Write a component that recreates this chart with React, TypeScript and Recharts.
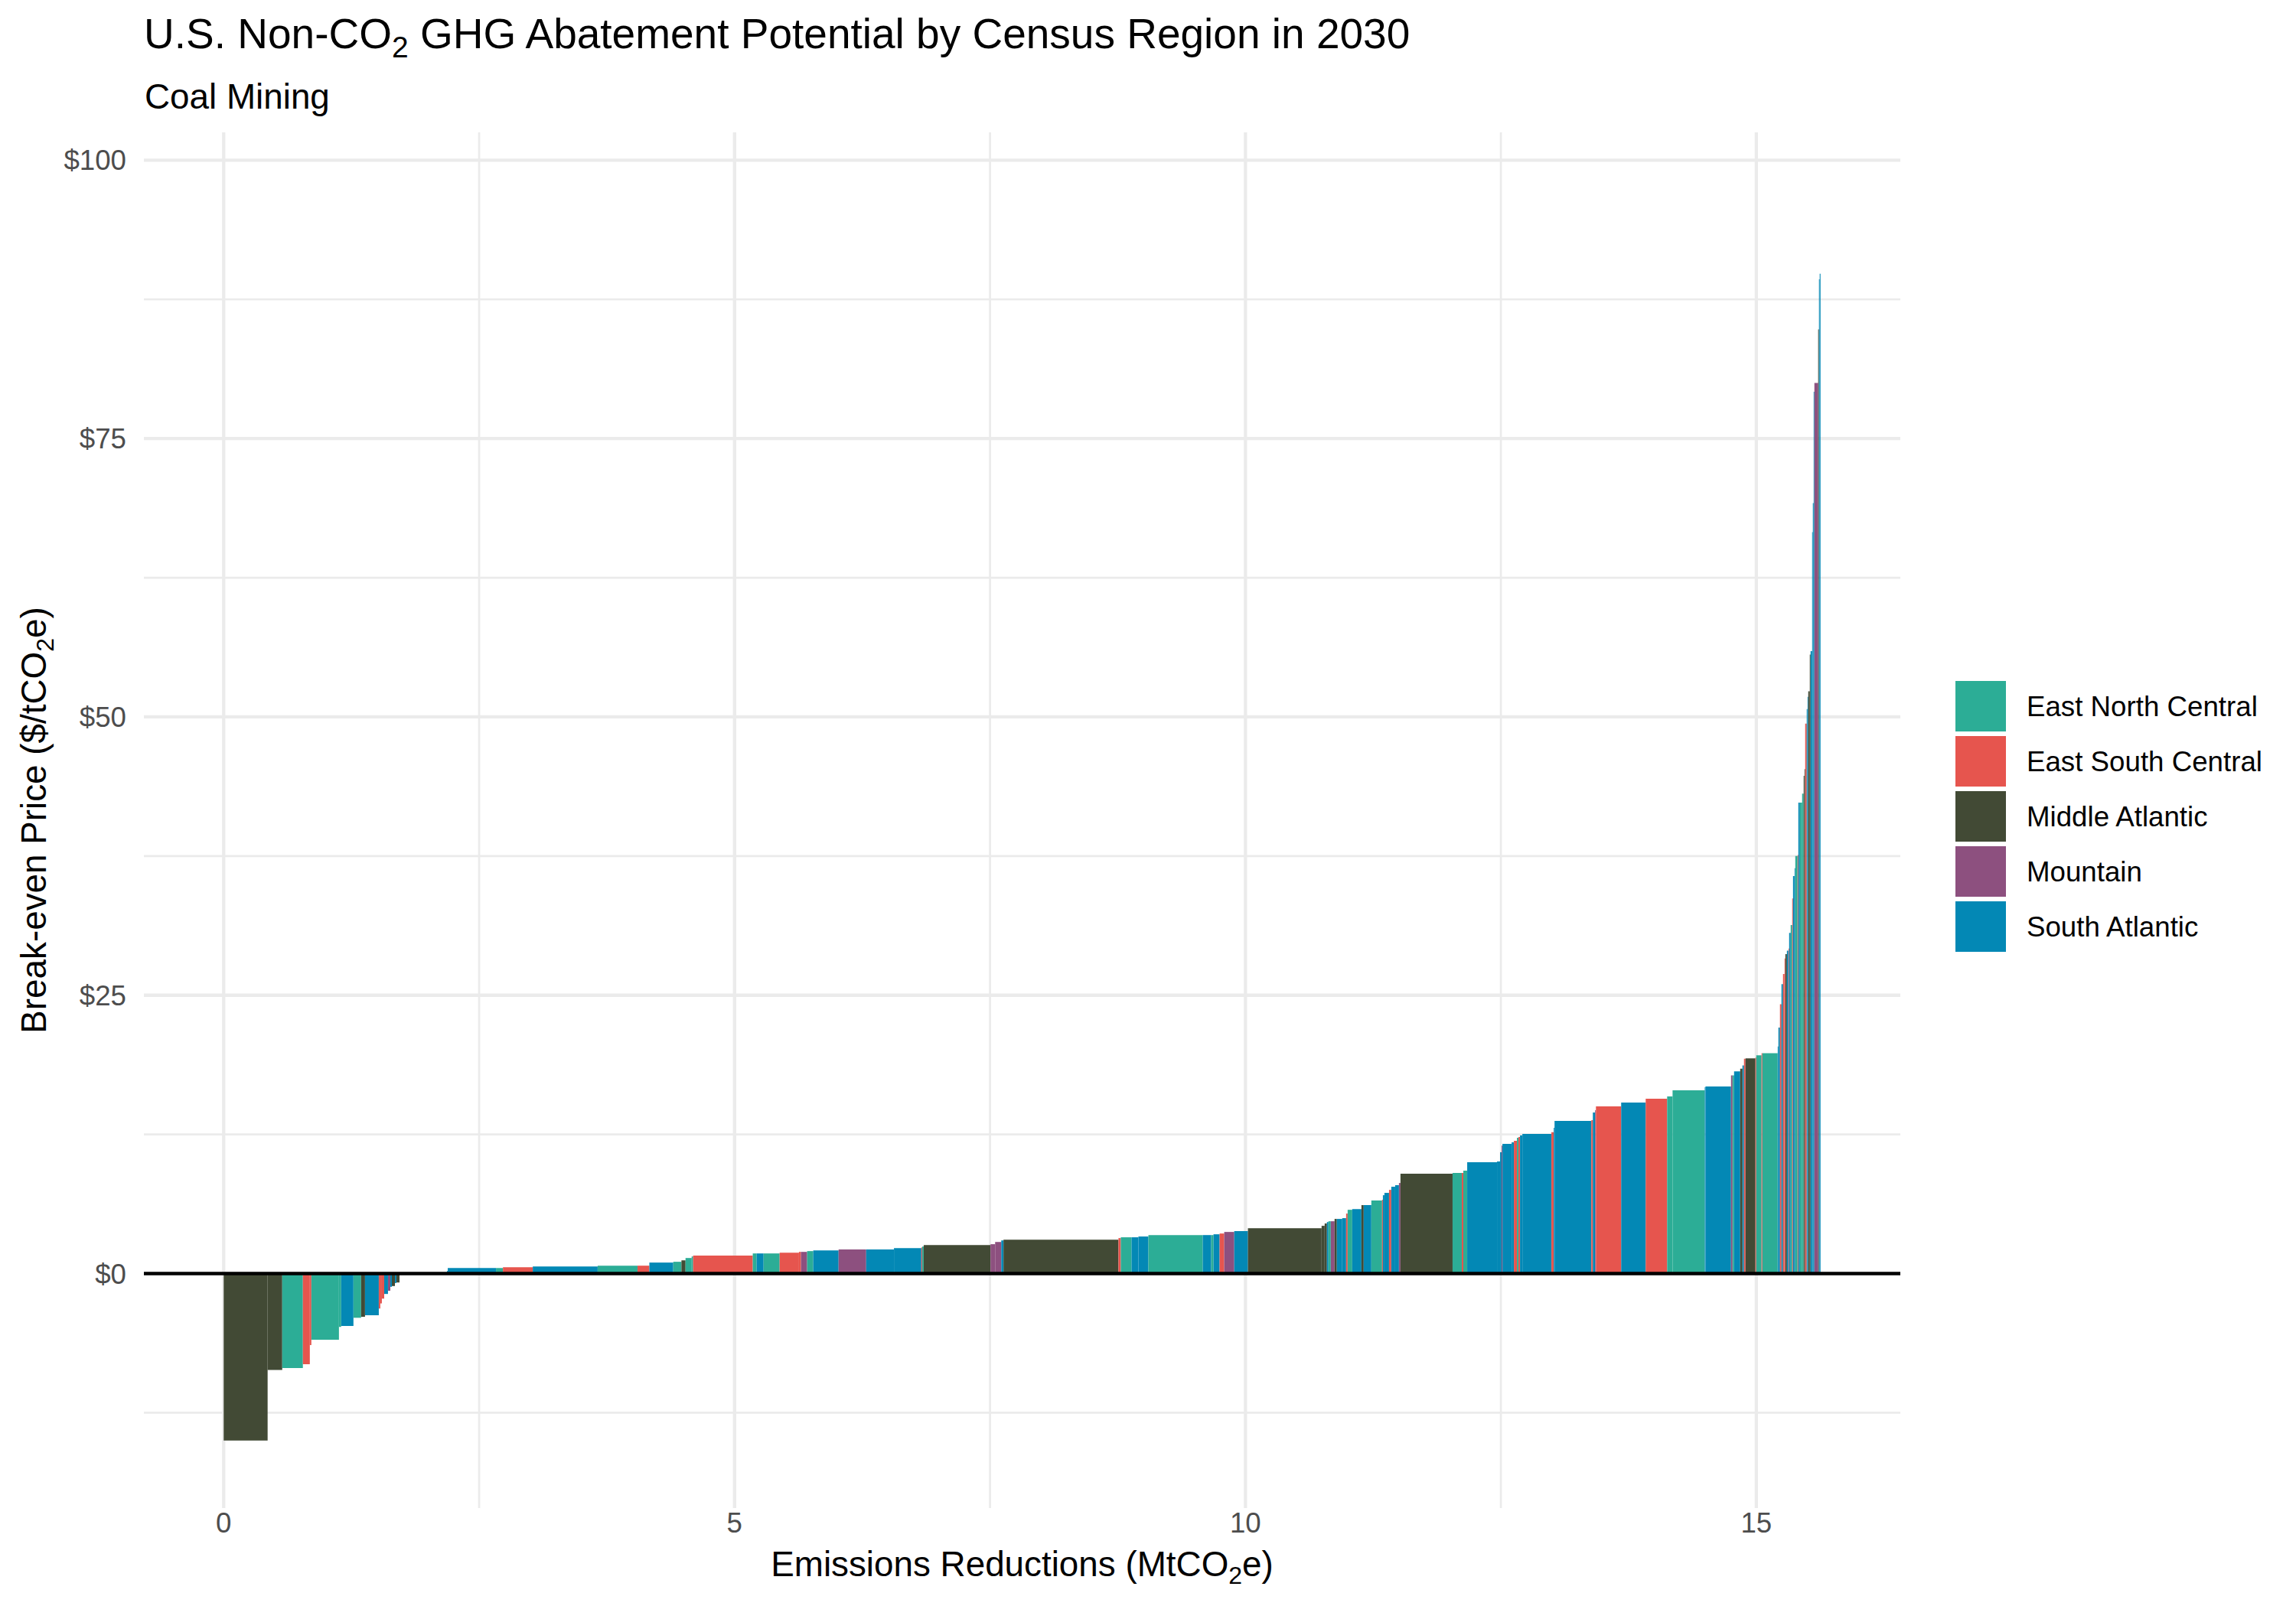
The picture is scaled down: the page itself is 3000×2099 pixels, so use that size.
import {
  ComposedChart,
  CartesianGrid,
  XAxis,
  YAxis,
  ReferenceArea,
  ReferenceLine,
} from "recharts";

// regions (legend order) and their fill colours
const regionCodes = ["ENC", "ESC", "MA", "MTN", "SA"];
const regionNames = [
  "East North Central",
  "East South Central",
  "Middle Atlantic",
  "Mountain",
  "South Atlantic",
];
const regionColors = ["#2CAD96", "#E6554E", "#424A35", "#8D507F", "#0388B5"];

// one entry per abatement option, sorted by break-even price
const segRegion = [
  "MA", "MA", "ENC", "ESC", "ESC", "ENC", "ENC", "SA", "ENC", "MA",
  "SA", "ESC", "ESC", "ESC", "SA", "MTN", "SA", "MA", "SA", "MA",
  "SA", "MA", "SA", "SA", "ENC", "ESC", "SA", "ENC", "ESC", "SA",
  "ENC", "MA", "ENC", "ENC", "ESC", "ENC", "SA", "ENC", "ESC", "ESC",
  "MTN", "ENC", "SA", "MTN", "SA", "SA", "ESC", "ENC", "MA", "MTN",
  "MTN", "SA", "MA", "ESC", "ENC", "SA", "SA", "ENC", "SA", "ENC",
  "SA", "ESC", "MTN", "SA", "MA", "MA", "MA", "SA", "ENC", "MTN",
  "MA", "SA", "SA", "ESC", "ENC", "SA", "MA", "SA", "ENC", "ESC",
  "SA", "SA", "ESC", "SA", "SA", "MTN", "MA", "ENC", "ESC", "ENC",
  "SA", "SA", "SA", "MTN", "SA", "SA", "ESC", "ENC", "ESC", "SA",
  "SA", "ESC", "SA", "SA", "ESC", "SA", "MTN", "ESC", "SA", "ESC",
  "ENC", "ENC", "SA", "SA", "MTN", "ENC", "SA", "MA", "SA", "ESC",
  "MA", "ESC", "ENC", "ESC", "ENC", "SA", "SA", "ESC", "SA", "ESC",
  "ESC", "MA", "SA", "ESC", "SA", "ENC", "ESC", "SA", "SA", "ENC",
  "ESC", "SA", "ENC", "ENC", "MA", "MA", "ESC", "SA", "SA", "MA",
  "MA", "SA", "SA", "SA", "SA", "MTN", "MA", "SA", "SA",
];

// MtCO2e reduced by each option
const segWidth = [
  0.43, 0.143, 0.202, 0.068, 0.015, 0.27, 0.022, 0.12, 0.075, 0.038,
  0.135, 0.015, 0.015, 0.023, 0.037, 0.023, 0.015, 0.03, 0.015, 0.03,
  0.075, 0.39, 0.007, 0.472, 0.068, 0.292, 0.635, 0.39, 0.116, 0.234,
  0.08, 0.04, 0.06, 0.014, 0.584, 0.038, 0.068, 0.157, 0.189, 0.02,
  0.06, 0.06, 0.248, 0.27, 0.272, 0.268, 0.008, 0.015, 0.654, 0.045,
  0.06, 0.022, 1.125, 0.023, 0.105, 0.067, 0.098, 0.532, 0.083, 0.022,
  0.06, 0.045, 0.098, 0.134, 0.721, 0.03, 0.022, 0.015, 0.023, 0.037,
  0.022, 0.053, 0.038, 0.015, 0.045, 0.09, 0.022, 0.075, 0.105, 0.008,
  0.015, 0.045, 0.022, 0.038, 0.037, 0.015, 0.51, 0.09, 0.015, 0.038,
  0.292, 0.03, 0.015, 0.008, 0.09, 0.022, 0.03, 0.015, 0.015, 0.023,
  0.284, 0.023, 0.008, 0.36, 0.015, 0.022, 0.008, 0.247, 0.24, 0.21,
  0.053, 0.315, 0.007, 0.25, 0.015, 0.015, 0.06, 0.022, 0.015, 0.015,
  0.097, 0.008, 0.052, 0.008, 0.15, 0.007, 0.015, 0.015, 0.015, 0.015,
  0.008, 0.015, 0.015, 0.007, 0.015, 0.015, 0.008, 0.015, 0.007, 0.023,
  0.007, 0.015, 0.022, 0.015, 0.008, 0.007, 0.015, 0.008, 0.007, 0.015,
  0.008, 0.015, 0.007, 0.008, 0.007, 0.037, 0.008, 0.007, 0.008,
];

// break-even price, $/tCO2e
const segPrice = [
  -15.0, -8.65, -8.49, -8.14, -6.42, -5.94, -4.79, -4.7, -3.97, -3.88,
  -3.74, -3.14, -2.68, -2.25, -1.83, -1.54, -1.19, -1.12, -0.85, -0.8,
  0.03, 0.1, 0.25, 0.5, 0.5, 0.57, 0.64, 0.71, 0.71, 0.99,
  1.06, 1.19, 1.4, 1.54, 1.61, 1.81, 1.81, 1.81, 1.88, 1.95,
  1.95, 2.02, 2.09, 2.16, 2.16, 2.29, 2.36, 2.43, 2.57, 2.64,
  2.84, 2.98, 3.05, 3.19, 3.26, 3.26, 3.33, 3.46, 3.46, 3.46,
  3.53, 3.6, 3.74, 3.81, 4.08, 4.29, 4.5, 4.63, 4.7, 4.7,
  4.91, 4.91, 4.98, 5.39, 5.73, 5.8, 6.15, 6.15, 6.56, 6.63,
  7.04, 7.25, 7.52, 7.8, 7.94, 8.14, 8.97, 9.04, 9.04, 9.24,
  10.0, 10.07, 10.9, 11.5, 11.65, 11.79, 11.93, 12.2, 12.27, 12.41,
  12.55, 12.7, 13.1, 13.72, 13.78, 14.47, 14.68, 15.02, 15.37, 15.71,
  15.92, 16.47, 16.74, 16.8, 17.8, 17.8, 18.16, 18.4, 18.7, 19.3,
  19.33, 19.4, 19.6, 19.8, 19.8, 20.4, 22.1, 24.2, 26.0, 26.9,
  28.3, 28.7, 29.0, 29.2, 30.6, 31.3, 33.7, 35.7, 36.4, 37.5,
  37.6, 42.3, 42.3, 43.1, 44.7, 45.3, 49.4, 50.7, 51.8, 52.3,
  55.6, 55.9, 66.6, 69.2, 79.2, 80.0, 84.8, 89.3, 89.8,
];

const xTicks = [0, 5, 10, 15];
const yTicks = [0, 25, 50, 75, 100];
const xMinor = [2.5, 7.5, 12.5];
const yMinor = [-12.5, 12.5, 37.5, 62.5, 87.5];

const FONT = '"Liberation Sans", Arial, Helvetica, sans-serif';
const GRID = "#EBEBEB";

// stack the options left to right
let cum = 0;
const segments = segWidth.map((w, i) => {
  const x0 = cum;
  cum += w;
  return { x0, x1: cum, price: segPrice[i], region: segRegion[i] };
});

const colorOf = (code: string) => regionColors[regionCodes.indexOf(code)];

function XTitle({ viewBox }: any) {
  const vb = viewBox || { x: 188, y: 1971, width: 2295, height: 128 };
  return (
    <text
      x={vb.x + vb.width / 2}
      y={vb.y + 89}
      textAnchor="middle"
      fontSize={45.8}
      fontFamily={FONT}
      fill="#000"
    >
      Emissions Reductions (MtCO
      <tspan fontSize={32} dy={10}>
        2
      </tspan>
      <tspan dy={-10}>e)</tspan>
    </text>
  );
}

function YTitle({ viewBox }: any) {
  const vb = viewBox || { x: 0, y: 173, width: 188, height: 1798 };
  const cx = vb.x + 60;
  const cy = vb.y + vb.height / 2;
  return (
    <text
      x={cx}
      y={cy}
      transform={`rotate(-90, ${cx}, ${cy})`}
      textAnchor="middle"
      fontSize={45.8}
      fontFamily={FONT}
      fill="#000"
    >
      Break-even Price ($/tCO
      <tspan fontSize={32} dy={10}>
        2
      </tspan>
      <tspan dy={-10}>e)</tspan>
    </text>
  );
}

export default function App() {
  return (
    <div
      style={{
        position: "absolute",
        left: 0,
        top: 0,
        width: 3000,
        height: 2099,
        background: "#fff",
        fontFamily: FONT,
      }}
    >
      <ComposedChart
        width={3000}
        height={2099}
        data={segments}
        margin={{ top: 173, right: 517, bottom: 0, left: 0 }}
      >
        {/* minor grid first, major on top of it; no frame at the edges */}
        <CartesianGrid
          stroke={GRID}
          strokeWidth={2.7}
          verticalValues={xMinor}
          horizontalValues={yMinor}
          syncWithTicks
        />
        <CartesianGrid stroke={GRID} strokeWidth={4.3} syncWithTicks />

        <XAxis
          type="number"
          dataKey="x0"
          domain={[-0.781, 16.409]}
          ticks={xTicks}
          allowDataOverflow
          axisLine={false}
          tickLine={false}
          tickSize={0}
          tickMargin={6}
          height={128}
          tick={{ fill: "#4D4D4D", fontSize: 36.7, fontFamily: FONT }}
          label={<XTitle />}
        />
        <YAxis
          type="number"
          dataKey="price"
          domain={[-21.06, 102.5]}
          ticks={yTicks}
          allowDataOverflow
          axisLine={false}
          tickLine={false}
          tickSize={0}
          tickMargin={23}
          width={188}
          tickFormatter={(v: number) => `$${v}`}
          tick={{ fill: "#4D4D4D", fontSize: 36.7, fontFamily: FONT }}
          label={<YTitle />}
        />

        {/* one rectangle per option: width = reduction, height = price */}
        {segments.map((s, i) => (
          <ReferenceArea
            key={i}
            x1={s.x0}
            x2={s.x1}
            y1={Math.min(0, s.price)}
            y2={Math.max(0, s.price)}
            fill={colorOf(s.region)}
            fillOpacity={1}
            stroke="none"
            ifOverflow="visible"
          />
        ))}

        <ReferenceLine y={0} stroke="#000" strokeWidth={4.5} />
      </ComposedChart>

      {/* title, subtitle and legend */}
      <svg
        width={3000}
        height={2099}
        style={{ position: "absolute", left: 0, top: 0, pointerEvents: "none" }}
        fontFamily={FONT}
      >
        <text x={188} y={63} fontSize={55} fill="#000">
          U.S. Non-CO
          <tspan fontSize={39} dy={12}>
            2
          </tspan>
          <tspan dy={-12}> GHG Abatement Potential by Census Region in 2030</tspan>
        </text>
        <text x={189} y={142} fontSize={45.8} fill="#000">
          Coal Mining
        </text>
        {regionNames.map((name, i) => (
          <g key={name}>
            <rect
              x={2555}
              y={890 + i * 72}
              width={66}
              height={66}
              fill={regionColors[i]}
            />
            <text x={2648} y={936 + i * 72} fontSize={36.7} fill="#000">
              {name}
            </text>
          </g>
        ))}
      </svg>
    </div>
  );
}
